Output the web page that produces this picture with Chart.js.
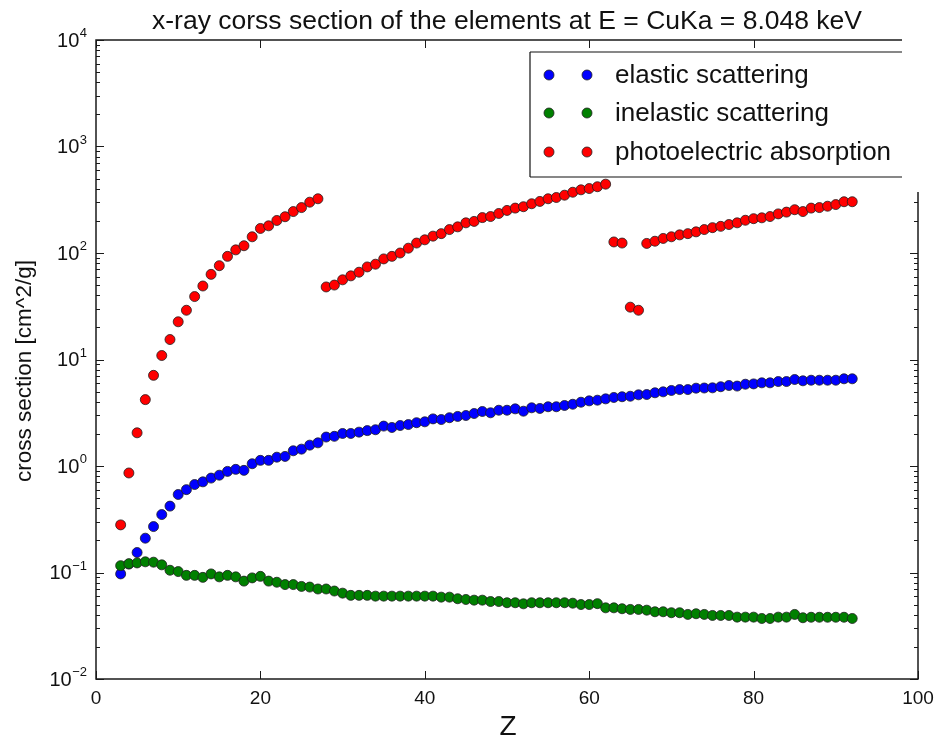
<!DOCTYPE html>
<html>
<head>
<meta charset="utf-8">
<script src="https://cdn.jsdelivr.net/npm/chart.js@4.4.1/dist/chart.umd.min.js"></script>
<style>
  html, body { margin: 0; padding: 0; background: #fff; }
  #wrap { width: 938px; height: 742px; }
</style>
</head>
<body>
<div id="wrap"><canvas id="chart" width="938" height="742"></canvas></div>
<script>
// atomic number Z of every plotted element
const zValues = [3, 4, 5, 6, 7, 8, 9, 10, 11, 12, 13, 14, 15, 16, 17, 18, 19, 20, 21, 22,
  23, 24, 25, 26, 27, 28, 29, 30, 31, 32, 33, 34, 35, 36, 37, 38, 39, 40, 41, 42,
  43, 44, 45, 46, 47, 48, 49, 50, 51, 52, 53, 54, 55, 56, 57, 58, 59, 60, 61, 62,
  63, 64, 65, 66, 67, 68, 69, 70, 71, 72, 73, 74, 75, 76, 77, 78, 79, 80, 81, 82,
  83, 84, 85, 86, 87, 88, 89, 90, 91, 92];

// cross sections in cm^2/g
const elasticValues = [0.097, 0.12, 0.154, 0.21, 0.27, 0.35, 0.42, 0.54, 0.60, 0.67,
  0.71, 0.77, 0.82, 0.89, 0.93, 0.91, 1.05, 1.13, 1.13, 1.21,
  1.23, 1.39, 1.44, 1.57, 1.65, 1.87, 1.90, 2.02, 2.02, 2.08,
  2.15, 2.19, 2.37, 2.30, 2.40, 2.45, 2.55, 2.60, 2.77, 2.73,
  2.84, 2.92, 2.98, 3.11, 3.25, 3.16, 3.34, 3.34, 3.44, 3.27,
  3.52, 3.47, 3.60, 3.60, 3.70, 3.80, 3.97, 4.09, 4.15, 4.27,
  4.40, 4.47, 4.52, 4.66, 4.69, 4.87, 4.97, 5.12, 5.22, 5.22,
  5.38, 5.40, 5.42, 5.55, 5.70, 5.63, 5.86, 5.90, 6.04, 6.04,
  6.21, 6.21, 6.49, 6.31, 6.39, 6.39, 6.39, 6.39, 6.59, 6.59];

const inelasticValues = [0.116, 0.121, 0.123, 0.126, 0.125, 0.118, 0.105, 0.102, 0.094, 0.094,
  0.090, 0.097, 0.091, 0.094, 0.091, 0.083, 0.089, 0.092, 0.083, 0.081,
  0.077, 0.077, 0.074, 0.073, 0.070, 0.070, 0.067, 0.064, 0.061, 0.061,
  0.061, 0.060, 0.060, 0.060, 0.060, 0.060, 0.060, 0.060, 0.060, 0.0587,
  0.0587, 0.0567, 0.0558, 0.055, 0.055, 0.0534, 0.0534, 0.052, 0.052, 0.0508,
  0.052, 0.052, 0.052, 0.052, 0.052, 0.0515, 0.050, 0.050, 0.051, 0.0466,
  0.0466, 0.0457, 0.045, 0.045, 0.0443, 0.0428, 0.0428, 0.0419, 0.0419, 0.0404,
  0.041, 0.0404, 0.0395, 0.0395, 0.0395, 0.0381, 0.0381, 0.0381, 0.037, 0.037,
  0.0381, 0.0381, 0.0404, 0.0376, 0.038, 0.038, 0.038, 0.038, 0.038, 0.037];

const photoValues = [0.28, 0.86, 2.05, 4.2, 7.1, 10.9, 15.4, 22.6, 29, 39,
  49, 63, 76, 93, 107, 117, 142, 170, 180, 202,
  219, 245, 267, 300, 323, 48, 50, 56, 61, 66,
  74, 78.5, 88, 93, 100, 111, 124, 133, 144, 152,
  166, 176, 192, 198, 215, 220, 235, 251, 264, 272,
  290, 305, 323, 332, 349, 372, 392, 403, 419, 443,
  127, 124, 31, 29, 123, 129, 137, 142, 148, 152,
  158, 166, 173, 178, 185, 192, 203, 210, 214, 220,
  233, 242, 255, 245, 264, 267, 275, 285, 303, 303];

const seriesLabels = ['elastic scattering', 'inelastic scattering', 'photoelectric absorption'];
const xTicks = [0, 20, 40, 60, 80, 100];
const yExponents = [-2, -1, 0, 1, 2, 3, 4];

const FONT = '"Liberation Sans", Arial, sans-serif';
const colors = ['#0000ff', '#008000', '#ff0000'];
const MARK = 5;

function pts(values) {
    return zValues.map((z, i) => ({ x: z, y: values[i] }));
}

function line(ctx, x1, y1, x2, y2) {
    ctx.beginPath();
    ctx.moveTo(x1, y1);
    ctx.lineTo(x2, y2);
    ctx.stroke();
}

// matplotlib-like frame, inward ticks, labels and legend
const mplAxes = {
    id: 'mplAxes',
    afterDatasetsDraw(chart) {
        const ctx = chart.ctx;
        const a = chart.chartArea;
        const xs = chart.scales.x;
        const ys = chart.scales.y;
        ctx.save();
        ctx.strokeStyle = '#1a1a1a';
        ctx.fillStyle = '#111';

        ctx.lineWidth = 1;
        xTicks.forEach(v => {
            const px = Math.round(xs.getPixelForValue(v)) + 0.5;
            line(ctx, px, a.bottom, px, a.bottom - 8);
            line(ctx, px, a.top, px, a.top + 8);
        });
        yExponents.forEach(e => {
            const py = Math.round(ys.getPixelForValue(Math.pow(10, e))) + 0.5;
            line(ctx, a.left, py, a.left + 8, py);
            line(ctx, a.right, py, a.right - 8, py);
            if (e < 4) {
                for (let m = 2; m <= 9; m++) {
                    const my = Math.round(ys.getPixelForValue(m * Math.pow(10, e))) + 0.5;
                    line(ctx, a.left, my, a.left + 4, my);
                    line(ctx, a.right, my, a.right - 4, my);
                }
            }
        });

        ctx.lineWidth = 1.5;
        ctx.strokeRect(a.left, a.top, a.right - a.left, a.bottom - a.top);

        // x tick labels
        ctx.font = '19px ' + FONT;
        ctx.textAlign = 'center';
        ctx.textBaseline = 'top';
        xTicks.forEach(v => ctx.fillText(String(v), xs.getPixelForValue(v), a.bottom + 10));

        // y tick labels as 10^n
        yExponents.forEach(e => {
            const py = ys.getPixelForValue(Math.pow(10, e));
            const exp = e < 0 ? '\u2212' + Math.abs(e) : String(e);
            ctx.font = '13px ' + FONT;
            const ew = ctx.measureText(exp).width;
            ctx.textAlign = 'left';
            ctx.textBaseline = 'alphabetic';
            ctx.fillText(exp, 87 - ew, py - 3);
            ctx.font = '20px ' + FONT;
            ctx.textAlign = 'right';
            ctx.textBaseline = 'middle';
            ctx.fillText('10', 87 - ew - 0.5, py + 1);
        });

        // the picture loses the top-right corner of the frame under the legend
        ctx.fillStyle = '#fff';
        ctx.fillRect(902, 0, 36, 192);

        // legend
        const lx = 530, ly = 52, lr = 902, lb = 177;
        ctx.fillRect(lx, ly, lr - lx, lb - ly);
        ctx.strokeStyle = '#111';
        ctx.lineWidth = 1.2;
        line(ctx, lx, ly, lr, ly);
        line(ctx, lx, ly, lx, lb);
        line(ctx, lx, lb, lr, lb);
        const rows = [75, 113, 152];
        ctx.font = '26px ' + FONT;
        ctx.textAlign = 'left';
        ctx.textBaseline = 'middle';
        seriesLabels.forEach((lab, i) => {
            [549, 587].forEach(mx => {
                ctx.beginPath();
                ctx.arc(mx, rows[i], MARK, 0, Math.PI * 2);
                ctx.fillStyle = colors[i];
                ctx.fill();
                ctx.lineWidth = 0.8;
                ctx.strokeStyle = '#202020';
                ctx.stroke();
            });
            ctx.fillStyle = '#111';
            ctx.fillText(lab, 615, rows[i] + 1);
        });

        // title and axis labels
        ctx.fillStyle = '#111';
        ctx.font = '26.5px ' + FONT;
        ctx.textAlign = 'center';
        ctx.textBaseline = 'alphabetic';
        ctx.fillText('x-ray corss section of the elements at E = CuKa = 8.048 keV', 507, 29);

        ctx.font = '28px ' + FONT;
        ctx.textBaseline = 'middle';
        ctx.fillText('Z', 508, 727);

        ctx.translate(25, 371);
        ctx.rotate(-Math.PI / 2);
        ctx.font = '22.5px ' + FONT;
        ctx.fillText('cross section [cm^2/g]', 0, 0);
        ctx.restore();
    }
};

function makeSet(label, values, color, order) {
    return {
        label: label,
        data: pts(values),
        backgroundColor: color,
        borderColor: '#202020',
        borderWidth: 0.8,
        pointRadius: MARK,
        pointHoverRadius: MARK,
        showLine: false,
        order: order
    };
}

new Chart(document.getElementById('chart'), {
    type: 'scatter',
    data: {
        datasets: [
            makeSet(seriesLabels[0], elasticValues, colors[0], 3),
            makeSet(seriesLabels[1], inelasticValues, colors[1], 2),
            makeSet(seriesLabels[2], photoValues, colors[2], 1)
        ]
    },
    options: {
        responsive: false,
        animation: false,
        layout: { padding: { left: 0, top: 40, right: 20, bottom: 0 } },
        plugins: {
            legend: { display: false },
            tooltip: { enabled: false },
            title: { display: false }
        },
        scales: {
            x: {
                type: 'linear',
                min: 0,
                max: 100,
                grid: { display: false },
                border: { display: false },
                ticks: { display: false },
                afterFit: s => { s.height = 63; }
            },
            y: {
                type: 'logarithmic',
                min: 0.01,
                max: 10000,
                grid: { display: false },
                border: { display: false },
                ticks: { display: false },
                afterFit: s => { s.width = 96; }
            }
        }
    },
    plugins: [mplAxes]
});
</script>
</body>
</html>
